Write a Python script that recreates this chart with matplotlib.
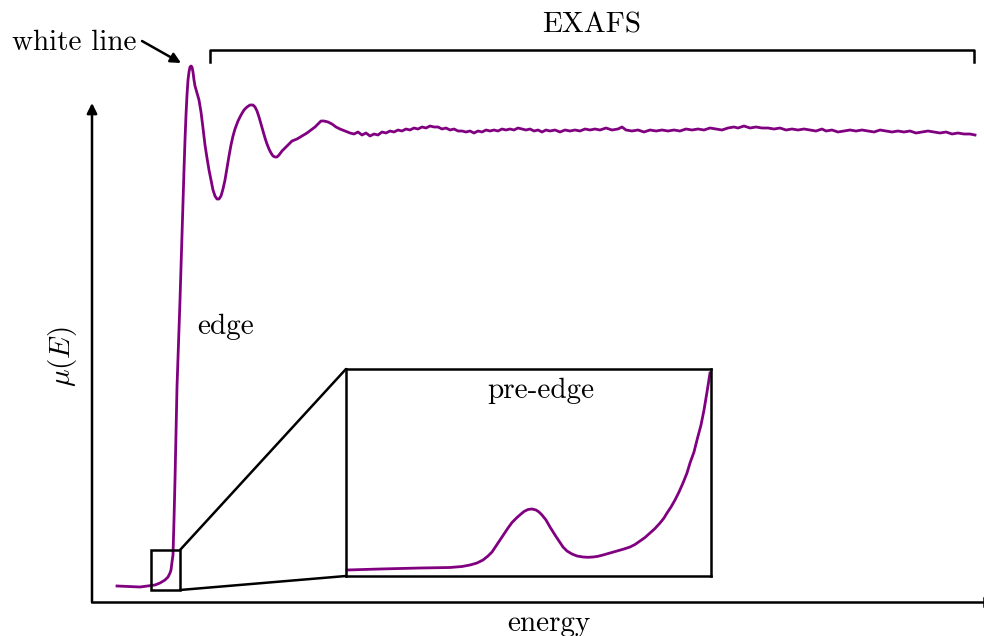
import matplotlib
matplotlib.use("Agg")
import matplotlib.pyplot as plt
from matplotlib.patches import Rectangle, ConnectionPatch

plt.rcParams['mathtext.fontset'] = 'cm'
plt.rcParams['font.family'] = ['cmr10', 'DejaVu Serif']
plt.rcParams['axes.unicode_minus'] = False

# ---- main spectrum (arbitrary energy units, mu(E) arbitrary units) ----
energy = [117, 140, 155, 160, 165, 168, 170, 171, 172, 173, 174, 175, 177, 180, 183, 184,
          185, 186, 187, 188, 189, 190, 191, 192, 193, 194, 195, 197, 199, 201, 203, 205,
          207, 209, 211, 213, 215, 217, 219, 221, 223, 225, 227, 229, 231, 233, 235, 238,
          241, 244, 247, 250, 253, 255, 257, 259, 261, 263, 265, 267, 269, 271, 273, 275,
          277, 279, 282, 285, 288, 292, 297, 302, 307, 311, 315, 318, 321, 324, 328, 332,
          336, 340, 345, 350,
          354, 358, 362, 366, 370, 374, 378, 382, 386, 390, 394, 398, 402, 406, 410, 414,
          418, 422, 426, 430, 434, 438, 442, 446, 450, 454, 458, 462, 466, 470, 474, 478,
          482, 486, 490, 494, 498, 502, 506, 510, 514, 518, 522, 526, 530, 534, 538, 542,
          546, 550, 555, 560, 565, 570, 575, 580, 585, 590, 595, 600, 606, 612, 618, 622,
          626, 632, 638, 644, 650, 656, 662, 668, 674, 680, 686, 692, 698, 704, 710, 716,
          722, 728, 734, 738, 744, 750, 756, 762, 768, 774, 780, 786, 792, 798, 804, 810,
          816, 822, 826, 832, 838, 844, 850, 856, 862, 868, 874, 880, 886, 892, 898, 904,
          910, 916, 922, 928, 934, 940, 946, 952, 958, 964, 970, 975]
mu = [16, 15, 17, 19, 22, 25, 29, 32, 40, 47, 82, 122, 215, 302, 402, 432,
      462, 487, 507, 522, 530, 535, 536, 535, 530, 522, 516, 509, 502, 490, 474, 457,
      444, 432, 422, 412, 406, 403, 403, 406, 413, 422, 434, 446, 457, 466, 473, 481,
      487, 492, 495, 497, 497, 495, 491, 485, 478, 471, 464, 458, 453, 449, 446, 445,
      445, 447, 451, 454, 457, 461, 463, 466, 469, 472, 475, 478, 481, 481, 480, 478,
      475, 473, 471, 469,
      468, 470, 467, 469, 466, 468, 467, 470, 469, 471, 470, 472, 471, 473, 472, 474,
      473, 475, 474, 476, 475, 475, 473, 474, 472, 473, 471, 471, 470, 471, 469, 471,
      470, 472, 471, 472, 471, 473, 472, 473, 472, 474, 473, 472, 473, 471, 472, 470,
      472, 471, 472, 470, 472, 471, 472, 471, 473, 472, 473, 472, 474, 472, 473, 475,
      472, 471, 472, 470, 472, 471, 472, 471, 472, 471, 473, 472, 473, 472, 474, 473,
      472, 474, 475, 474, 476, 474, 475, 474, 474, 473, 474, 472, 473, 472, 473, 472,
      471, 473, 471, 472, 470, 471, 472, 471, 472, 471, 470, 472, 471, 470, 471, 470,
      471, 469, 470, 471, 470, 469, 470, 468, 469, 468, 468, 467]

# ---- pre-edge inset (zoomed, arbitrary units) ----
pre_energy = [1, 34, 74, 104, 116, 124, 131, 137, 142, 146,
              150, 154, 158, 162, 166, 171, 175, 178, 182, 186,
              190, 193, 196, 200, 204, 209, 213, 217, 221, 226,
              231, 237, 242, 247, 252, 257, 264, 271, 278, 284,
              289, 294, 299, 304, 309, 314, 318, 321, 325, 329,
              333, 337, 341, 344, 348, 351, 355, 358, 361, 364]
pre_mu = [6, 7, 8, 8.5, 9.5, 11, 13, 16, 20, 24,
          30, 36, 42, 48, 53.5, 58.5, 62, 64.5, 66.5, 67,
          66, 64, 61, 56, 49, 41, 35, 29, 25, 22,
          20, 19, 18.7, 19, 19.7, 21, 23, 25, 27, 29,
          31.5, 35, 38.5, 43, 47.5, 53, 58, 63, 69, 76,
          84, 93, 103, 113, 124, 136, 151, 166, 184, 203]

PURPLE = '#800080'
LW = 1.8
FS = 21
W, H = 984, 636
fig = plt.figure(figsize=(W / 100, H / 100), dpi=100)

# main axes: left spine at x=92 px, bottom at y=602 px, top at y=103 px
ax = fig.add_axes([92 / W, (H - 602) / H, (984 - 92) / W, (602 - 103) / H])
ax.set_xlim(92, 984)
ax.set_ylim(0, 499)
for s in ax.spines.values():
    s.set_visible(False)
ax.set_xticks([])
ax.set_yticks([])
ax.patch.set_alpha(0)

ax.plot(energy, mu, color=PURPLE, lw=2.0, clip_on=False, zorder=3,
        solid_joinstyle='round')

# axes lines
ax.annotate('', xy=(0, 1.0), xytext=(0, 0), xycoords='axes fraction',
            arrowprops=dict(arrowstyle='-|>', lw=LW, color='black',
                            mutation_scale=15, shrinkA=0, shrinkB=0))
ax.plot([0, 1], [0, 0], transform=ax.transAxes, color='black', lw=LW, clip_on=False)
ax.plot([1, 1], [-0.009, 0.009], transform=ax.transAxes, color='black', lw=LW,
        clip_on=False)

ax.text(-0.0336, 0.491, r'$\mu(E)$', transform=ax.transAxes, rotation=90,
        ha='center', va='center', fontsize=FS)
ax.text(0.512, -0.043, 'energy', transform=ax.transAxes, ha='center', va='center',
        fontsize=FS)

# EXAFS bracket
ax.plot([210, 210, 974, 974], [540, 552, 552, 540], color='black', lw=LW,
        clip_on=False)
ax.text(592, 577, 'EXAFS', ha='center', va='center', fontsize=FS)

# white line annotation
ax.text(74, 559, 'white line', ha='center', va='center', fontsize=FS)
ax.annotate('', xy=(181, 539), xytext=(142, 561), annotation_clip=False,
            arrowprops=dict(arrowstyle='-|>', lw=LW, color='black',
                            mutation_scale=15, shrinkA=0, shrinkB=0))

ax.text(226, 275, 'edge', ha='center', va='center', fontsize=FS)

# zoom box on main curve
ax.add_patch(Rectangle((151, 12), 29, 40, fill=False, edgecolor='black', lw=LW,
                       zorder=4))

# inset
axins = fig.add_axes([346 / W, (H - 576) / H, (711 - 346) / W, (576 - 369) / H])
axins.set_xlim(0, 365)
axins.set_ylim(0, 207)
axins.set_xticks([])
axins.set_yticks([])
for s in axins.spines.values():
    s.set_linewidth(LW)
axins.plot(pre_energy, pre_mu, color=PURPLE, lw=2.0, clip_on=False,
           solid_joinstyle='round')
axins.text(0.535, 0.895, 'pre-edge', transform=axins.transAxes, ha='center',
           va='center', fontsize=FS)

for (xa, ya), (xb, yb) in [((180, 52), (0, 1)), ((180, 12), (0, 0))]:
    cp = ConnectionPatch(xyA=(xa, ya), coordsA=ax.transData, xyB=(xb, yb),
                         coordsB=axins.transAxes, color='black', lw=LW)
    fig.add_artist(cp)

fig.savefig('out.png', dpi=100)
